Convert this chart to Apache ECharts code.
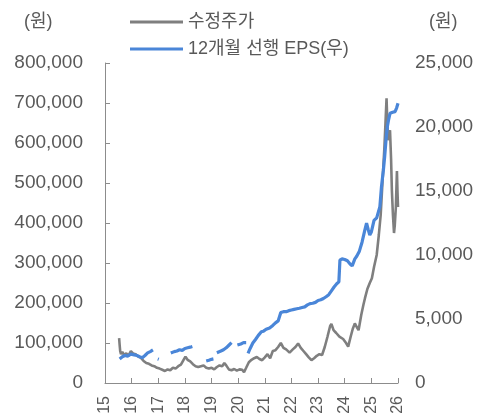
<!DOCTYPE html>
<html><head><meta charset="utf-8">
<script src="https://cdn.jsdelivr.net/npm/echarts@6/dist/echarts.min.js"></script>
<style>html,body{margin:0;padding:0;background:#fff}#c{width:484px;height:418px}</style>
</head><body><div id="c"></div>
<script>
// Dates as decimal years
const priceDates = [2015.53,2015.55,2015.57,2015.60,2015.65,2015.72,2015.80,2015.88,2015.97,2016.05,2016.15,2016.25,2016.35,2016.45,2016.55,2016.65,2016.75,2016.85,2016.95,2017.05,2017.15,2017.25,2017.35,2017.45,2017.55,2017.65,2017.75,2017.85,2017.95,2018.02,2018.10,2018.20,2018.30,2018.40,2018.50,2018.60,2018.70,2018.80,2018.90,2019.00,2019.10,2019.20,2019.30,2019.40,2019.48,2019.55,2019.65,2019.75,2019.85,2019.95,2020.05,2020.15,2020.22,2020.30,2020.40,2020.50,2020.60,2020.70,2020.80,2020.90,2021.00,2021.10,2021.20,2021.30,2021.40,2021.50,2021.60,2021.70,2021.80,2021.93,2022.05,2022.15,2022.25,2022.35,2022.45,2022.55,2022.65,2022.75,2022.85,2022.95,2023.05,2023.15,2023.25,2023.35,2023.45,2023.50,2023.58,2023.68,2023.80,2023.94,2024.05,2024.13,2024.22,2024.30,2024.38,2024.45,2024.52,2024.62,2024.70,2024.76,2024.85,2024.94,2025.02,2025.10,2025.20,2025.28,2025.35,2025.42,2025.49,2025.53,2025.57,2025.60,2025.63,2025.67,2025.70,2025.74,2025.77,2025.81,2025.85,2025.88,2025.92,2025.96,2025.98,2026.00];
const priceValues = [112000,95000,80000,72000,78000,70000,74000,68000,80000,74000,72000,66000,63000,55000,50000,48000,44000,42000,38000,36000,33000,30000,34000,32000,38000,36000,42000,46000,58000,66000,58000,54000,47000,42000,40000,42000,44000,38000,36000,38000,34000,40000,44000,42000,50000,44000,34000,32000,35000,31000,34000,33000,27000,38000,52000,58000,62000,65000,60000,57000,64000,72000,62000,80000,82000,90000,100000,88000,84000,76000,84000,90000,99000,88000,80000,72000,64000,57000,62000,68000,72000,70000,90000,115000,142000,148000,132000,125000,116000,110000,100000,91000,115000,135000,149000,140000,132000,170000,195000,212000,235000,250000,262000,290000,320000,370000,420000,505000,590000,650000,712000,650000,607000,625000,632000,560000,482000,420000,375000,395000,440000,530000,480000,440000];
const epsDates = [2015.55,2015.65,2015.75,2015.85,2015.97,2016.10,2016.20,2016.30,2016.40,2016.50,2016.60,2016.70,2016.80,2016.88,2016.98,2017.02,2017.20,2017.47,2017.60,2017.70,2017.80,2017.90,2018.00,2018.10,2018.20,2018.28,2018.50,2018.80,2018.90,2019.00,2019.07,2019.13,2019.20,2019.25,2019.35,2019.45,2019.55,2019.65,2019.75,2019.85,2019.97,2020.10,2020.20,2020.30,2020.33,2020.37,2020.45,2020.55,2020.65,2020.75,2020.87,2020.95,2021.05,2021.18,2021.30,2021.40,2021.50,2021.55,2021.60,2021.70,2021.80,2021.90,2022.00,2022.10,2022.20,2022.30,2022.40,2022.50,2022.60,2022.70,2022.80,2022.90,2023.00,2023.10,2023.20,2023.30,2023.40,2023.50,2023.60,2023.70,2023.78,2023.82,2023.90,2024.00,2024.10,2024.20,2024.28,2024.32,2024.38,2024.45,2024.55,2024.65,2024.75,2024.82,2024.88,2024.94,2025.00,2025.10,2025.20,2025.32,2025.38,2025.45,2025.50,2025.55,2025.60,2025.65,2025.70,2025.80,2025.89,2025.95,2026.00];
const epsValues = [1880,2050,2150,2100,2260,2200,2150,2050,1980,2150,2350,2450,2580,null,1880,1850,null,2340,2450,2500,2600,2550,2700,2750,2800,2850,null,1720,1780,1850,1880,null,2370,2300,2500,2600,2750,2950,3150,null,2970,3050,3150,3150,null,2320,2700,3125,3400,3700,4000,4050,4200,4300,4500,4700,4850,4920,5500,5570,5570,5650,5700,5750,5800,5840,5900,5950,6100,6200,6230,6300,6450,6500,6600,6740,6900,7200,7500,7750,7900,9600,9700,9650,9550,9300,9150,9080,9700,9900,10300,11000,11900,12480,12000,11560,11800,12700,12900,13780,15340,16600,17680,19000,20020,20600,21070,21150,21200,21500,21850];
const seriesNames = ['수정주가', '12개월 선행 EPS(우)'];
const unitLabel = '(원)';

const FONT = "'Liberation Sans', 'Noto Sans CJK KR', sans-serif";
const TXT = '#595959';
const AX = '#8c8c8c';
const fmt = v => String(v).replace(/\B(?=(\d{3})+(?!\d))/g, ',');

const chart = echarts.init(document.getElementById('c'));
chart.setOption({
  animation: false,
  backgroundColor: '#fff',
  grid: {left: 105, right: 86, top: 63, bottom: 35, containLabel: false},
  legend: [
    {data: [seriesNames[0]], left: 130, top: 13, padding: 0, icon: 'rect', itemWidth: 53, itemHeight: 3,
     textStyle: {fontSize: 18, color: TXT, fontFamily: FONT}},
    {data: [seriesNames[1]], left: 130, top: 40, padding: 0, icon: 'rect', itemWidth: 53, itemHeight: 3,
     textStyle: {fontSize: 18, color: TXT, fontFamily: FONT}}
  ],
  graphic: [
    {type: 'text', left: 24, top: 13, style: {text: unitLabel, fontSize: 18, fill: TXT, fontFamily: FONT}},
    {type: 'text', left: 429, top: 13, style: {text: unitLabel, fontSize: 18, fill: TXT, fontFamily: FONT}}
  ],
  xAxis: {
    type: 'value', min: 2015, max: 2026, interval: 1,
    axisLine: {show: true, lineStyle: {color: AX, width: 1}},
    axisTick: {show: true, inside: true, length: 5, lineStyle: {color: AX}},
    axisLabel: {rotate: 90, margin: 13, fontSize: 16, color: TXT, fontFamily: FONT,
      formatter: v => String(Math.round(v)).slice(2)},
    splitLine: {show: false}
  },
  yAxis: [
    {type: 'value', min: 0, max: 800000, interval: 100000,
     axisLine: {show: true, lineStyle: {color: AX, width: 1}},
     axisTick: {show: true, inside: true, length: 5, lineStyle: {color: AX}},
     axisLabel: {margin: 22, fontSize: 19, color: TXT, fontFamily: FONT, formatter: fmt},
     splitLine: {show: false}},
    {type: 'value', min: 0, max: 25000, interval: 5000, position: 'right',
     axisLine: {show: false}, axisTick: {show: false},
     axisLabel: {margin: 17, fontSize: 19, color: TXT, fontFamily: FONT, formatter: fmt},
     splitLine: {show: false}}
  ],
  series: [
    {name: seriesNames[0], type: 'line', yAxisIndex: 0, showSymbol: false, symbol: 'none',
     color: '#7f7f7f', lineStyle: {width: 2.6, color: '#7f7f7f'},
     data: priceDates.map((d, i) => [d, priceValues[i]])},
    {name: seriesNames[1], type: 'line', yAxisIndex: 1, showSymbol: false, symbol: 'none', connectNulls: false,
     color: '#4a86d8', lineStyle: {width: 3.2, color: '#4a86d8'},
     data: epsDates.map((d, i) => [d, epsValues[i]])}
  ]
});
</script></body></html>
